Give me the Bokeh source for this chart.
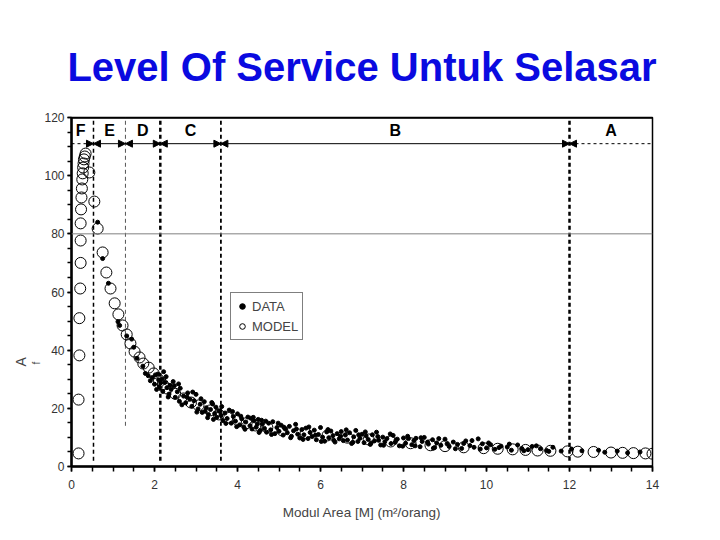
from bokeh.plotting import figure
from bokeh.models import Range1d, SingleIntervalTicker, Span, Arrow, NormalHead, Title
from bokeh.core.properties import value
from bokeh.embed import file_html
from bokeh.resources import INLINE

TITLE = "Level Of Service Untuk Selasar"
X_LABEL = "Modul Area [M] (m\u00b2/orang)"
ZONES = ["F", "E", "D", "C", "B", "A"]
ZONE_EDGES = [0.0, 0.53, 1.3, 2.14, 3.6, 12.0, 14.0]

MODEL_M = [0.17, 0.17, 0.19, 0.19, 0.21, 0.22, 0.22, 0.22, 0.23, 0.24, 0.25, 0.26, 0.27, 0.28,
           0.29, 0.30, 0.32, 0.34,
           0.43, 0.55, 0.63, 0.75, 0.84, 0.94, 1.04, 1.13, 1.23, 1.33, 1.42, 1.52, 1.64, 1.73,
           1.86, 1.98, 2.10, 2.20, 2.31, 2.50, 2.70, 2.88, 3.06, 3.35, 3.55, 3.76, 4.02, 4.22,
           4.43, 4.72, 5.08, 5.64, 6.17, 6.65, 7.16, 7.69, 8.17, 8.65, 9.00, 9.45, 9.93, 10.27,
           10.63, 10.94, 11.23, 11.54, 11.95, 12.20, 12.58, 13.00, 13.28, 13.54, 13.83, 14.00]
MODEL_AF = [4.5, 23.0, 38.2, 51.0, 61.2, 70.0, 77.7, 83.6, 88.4, 92.5, 95.6, 98.7, 100.8, 102.8,
            104.2, 105.6, 106.6, 107.6,
            101.1, 91.1, 81.8, 73.6, 66.7, 61.2, 56.1, 52.3, 48.5, 45.4, 42.3, 39.5, 37.5, 35.4,
            34.0, 32.0, 29.9, 28.3, 26.8, 25.0, 23.4, 22.0, 21.0, 19.3, 17.9, 16.8, 15.8, 14.9,
            14.1, 13.4, 12.4, 11.5, 10.7, 9.9, 9.3, 8.6, 8.0, 7.3, 7.0, 6.6, 6.3, 6.1,
            5.9, 5.7, 5.5, 5.4, 5.2, 5.1, 5.0, 4.8, 4.7, 4.6, 4.5, 4.4]

DATA_M = [0.63, 0.75, 0.89, 1.12, 1.16, 1.33, 1.45, 1.50, 1.58, 1.72, 1.78, 1.85, 1.90, 1.95,
          2.00, 2.05, 2.10, 2.12, 2.18, 2.20, 2.25, 2.30, 2.35, 2.40, 2.45, 2.50, 2.55, 2.60,
          2.62, 2.70, 2.75, 2.80, 2.85, 2.90, 2.95, 3.00, 3.05, 3.10, 3.15, 3.20, 3.25, 3.30,
          3.35, 3.40, 3.45, 3.50, 3.55, 3.60, 3.65, 3.70, 3.75, 3.80, 3.85, 3.90, 3.95, 4.00,
          4.05, 4.10, 4.15, 4.20, 4.25, 4.30, 4.35, 4.40, 4.45, 4.50, 4.55, 4.60, 4.65, 4.70,
          4.75, 4.80, 4.85, 4.90, 4.95, 5.00, 5.05, 5.10, 5.15, 5.20, 5.25, 5.30, 5.35, 5.40,
          5.45, 5.50, 5.55, 5.60, 5.65, 5.70, 5.75, 5.80, 5.85, 5.90, 5.95, 6.00, 6.05, 6.10,
          6.15, 6.20, 6.25, 6.30, 6.35, 6.40, 6.45, 6.50, 6.55, 6.60, 6.65, 6.70, 6.75, 6.80,
          6.85, 6.90, 6.95, 7.00, 7.05, 7.10, 7.15, 7.20, 7.25, 7.30, 7.35, 7.40, 7.45, 7.50,
          7.55, 7.60, 7.70, 7.75, 7.80, 7.85, 7.90, 8.00, 8.05, 8.10, 8.20, 8.25, 8.30, 8.40,
          8.45, 8.50, 8.60, 8.70, 8.75, 8.80, 8.90, 9.00, 9.10, 9.20, 9.30, 9.40, 9.50, 9.60,
          9.70, 9.80, 9.90, 10.00, 10.10, 10.20, 10.35, 10.50, 10.60, 10.75, 10.85, 11.00, 11.10,
          11.30, 11.45, 11.60, 11.80, 12.05, 12.30, 12.70, 12.85, 13.15, 13.40, 13.70,
          2.02, 2.15, 2.28, 2.38, 3.22, 3.38, 3.48, 3.58, 4.32, 4.48, 4.58,
          2.08, 2.22, 2.33, 2.48, 2.58, 2.66, 2.78, 2.92, 3.02, 3.12, 3.28, 3.42, 3.62, 3.72,
          3.88, 3.98, 4.08, 4.18, 4.38, 4.52, 4.68, 4.82, 4.98, 5.12, 5.28, 5.42, 5.58, 5.72,
          5.88, 6.02, 6.18, 6.32, 6.48, 6.62, 6.78, 6.92, 7.08, 7.22, 7.38, 7.52, 7.68, 7.82,
          7.98, 8.12, 8.28, 8.42, 8.58, 8.72, 8.85, 9.05, 9.25, 9.45, 9.65, 9.85, 10.05, 10.30,
          10.55, 10.90, 11.20, 11.50]
DATA_AF = [84.0, 71.5, 63.0, 49.8, 48.5, 44.9, 43.8, 41.0, 37.2, 34.5, 32.0, 31.2, 29.5, 30.6,
           28.3, 26.5, 29.8, 27.4, 30.1, 25.8, 28.9, 27.1, 24.9, 26.6, 29.2, 23.8, 25.7, 22.4,
           26.9, 24.2, 21.9, 25.3, 23.1, 20.7, 22.6, 24.8, 19.8, 21.4, 18.6, 22.3, 20.2, 17.9,
           19.6, 21.5, 18.2, 16.9, 19.1, 17.6, 15.8, 18.4, 16.5, 19.4, 14.9, 17.2, 15.6, 18.1,
           14.3, 16.4, 13.6, 15.3, 17.0, 14.0, 12.9, 15.7, 13.5, 16.2, 12.4, 14.6, 13.1, 11.8,
           14.9, 12.6, 15.4, 11.3, 13.4, 12.1, 14.2, 10.8, 12.9, 11.6, 13.8, 10.4, 12.3, 14.5,
           11.1, 9.8, 12.7, 10.9, 13.2, 9.6, 11.7, 10.3, 12.5, 9.2, 11.0, 13.4, 10.1, 8.7,
           11.9, 9.9, 12.2, 10.6, 8.4, 11.3, 9.5, 12.0, 8.9, 10.8, 9.1, 11.6, 7.9, 10.2,
           12.4, 8.6, 9.7, 11.1, 8.2, 10.5, 9.3, 7.6, 10.9, 8.8, 11.8, 9.0, 7.4, 10.1,
           8.5, 9.6, 7.9, 10.7, 8.3, 9.4, 7.1, 9.8, 8.0, 10.4, 7.5, 8.9, 9.7, 6.8,
           8.6, 10.0, 7.7, 9.2, 6.5, 8.1, 7.3, 9.4, 6.9, 8.4, 7.6, 6.2, 8.8, 7.2,
           6.6, 9.5, 7.8, 6.4, 7.5, 5.9, 7.0, 6.7, 5.6, 7.4, 6.2, 5.8, 6.9,
           6.1, 5.5, 6.6, 5.3, 6.0, 5.4, 5.6, 4.9, 5.3, 4.7, 5.0,
           31.5, 28.8, 30.9, 27.9, 19.0, 22.0, 20.4, 18.9, 16.6, 14.6, 15.9,
           31.8, 32.6, 23.9, 27.8, 28.4, 21.2, 23.9, 25.6, 18.7, 23.3, 16.8, 16.2, 20.6, 14.8,
           18.9, 13.7, 17.3, 12.8, 16.9, 11.7, 15.6, 11.0, 14.9, 13.4, 9.9, 12.9, 9.3, 13.6,
           10.8, 8.6, 12.7, 9.0, 10.4, 12.6, 8.3, 10.9, 11.9, 8.1, 10.3, 7.3, 11.2, 9.1,
           7.0, 9.6, 7.1, 9.9, 8.4, 6.3, 9.6, 7.8, 6.1, 7.9, 8.9, 6.0, 8.1, 6.5,
           7.7, 5.4, 7.1, 5.2]

FONT = "Liberation Sans"

p = figure(width=720, height=540, x_range=Range1d(0, 14), y_range=Range1d(0, 120),
           output_backend="svg", toolbar_location=None,
           min_border_left=71, min_border_right=68, min_border_top=117, min_border_bottom=74)
p.xgrid.visible = False
p.ygrid.visible = False
p.outline_line_color = "black"
p.outline_line_width = 1.5
p.background_fill_color = "white"
p.border_fill_color = "white"

# title
p.title.text = TITLE
p.title.align = "center"
p.title.text_font = FONT
p.title.text_font_style = "bold"
p.title.text_font_size = "40px"
p.title.text_color = "#0a0ae0"
p.title.standoff = 58

p.xaxis.ticker = SingleIntervalTicker(interval=2, num_minor_ticks=4)
p.yaxis.ticker = SingleIntervalTicker(interval=20, num_minor_ticks=4)
for ax in (p.xaxis[0], p.yaxis[0]):
    ax.axis_line_width = 2.5
    ax.axis_line_color = "black"
    ax.major_tick_line_width = 1.5
    ax.minor_tick_line_width = 1.5
    ax.major_tick_in = 0
    ax.minor_tick_in = 0
    ax.major_label_text_font = FONT
    ax.major_label_text_font_size = "12px"
    ax.major_label_text_color = "#333333"
p.xaxis.major_tick_out = 5
p.xaxis.minor_tick_out = 5
p.xaxis.major_label_standoff = 8
p.yaxis.major_tick_out = 4
p.yaxis.minor_tick_out = 4
p.yaxis.major_label_standoff = 3
p.xaxis.axis_label = X_LABEL
p.xaxis.axis_label_text_font = FONT
p.xaxis.axis_label_text_font_style = "normal"
p.xaxis.axis_label_text_font_size = "13.5px"
p.xaxis.axis_label_standoff = 13

# y axis label "A" with subscript "f" as side titles
p.add_layout(Title(text="f", align="left", offset=102, text_font=FONT, text_font_size="10px",
                   text_font_style="normal", standoff=0), "left")
p.add_layout(Title(text="A", align="left", offset=100, text_font=FONT, text_font_size="14px",
                   text_font_style="normal", standoff=0), "left")

# reference line at 80 and thick top border
p.add_layout(Span(location=80, dimension="width", line_color="#808080", line_width=1))
p.add_layout(Span(location=120, dimension="width", line_color="black", line_width=2.5))

# zone boundaries
b = ZONE_EDGES
p.segment(x0=[b[1]], y0=[2], x1=[b[1]], y1=[120], line_color="black", line_width=1.5, line_dash="4 3")
p.segment(x0=[b[2]], y0=[14], x1=[b[2]], y1=[120], line_color="#555555", line_width=1, line_dash="4 3")
p.segment(x0=[b[3], b[5]], y0=[2, 2], x1=[b[3], b[5]], y1=[120, 120], line_color="black",
          line_width=2.5, line_dash="4 3")
p.segment(x0=[b[4]], y0=[2], x1=[b[4]], y1=[120], line_color="black", line_width=1.8, line_dash="4 3")

# zone arrows
ARROW_Y = 111
for i in range(len(b) - 1):
    dashed = (i == 0 or i == len(b) - 2)
    p.add_layout(Arrow(
        x_start=b[i], x_end=b[i + 1], y_start=ARROW_Y, y_end=ARROW_Y,
        start=None if i == 0 else NormalHead(size=7, fill_color="black", line_color="black"),
        end=None if i == len(b) - 2 else NormalHead(size=7, fill_color="black", line_color="black"),
        line_color="black", line_width=1, line_dash="3 3" if dashed else "solid"))

mids = [(b[i] + b[i + 1]) / 2 for i in range(len(ZONES))]
mids[0] = 0.22
p.text(x=mids, y=[115.5] * len(ZONES), text=ZONES, text_font=value(FONT), text_font_style="bold",
       text_font_size="16px", text_align="center", text_baseline="middle", text_color="black")

# data and model
p.scatter(x=DATA_M, y=DATA_AF, marker="circle", size=4, fill_color="black", line_color="black",
          legend_label="DATA")
p.scatter(x=MODEL_M, y=MODEL_AF, marker="circle", size=11, fill_color="white", fill_alpha=0.0,
          line_color="black", line_width=1, legend_label="MODEL")

lg = p.legend[0]
lg.location = (159, 126)
lg.border_line_color = "black"
lg.border_line_width = 1
lg.label_text_font = FONT
lg.label_text_font_size = "13px"
lg.glyph_width = 14
lg.glyph_height = 18
lg.label_height = 18
lg.label_standoff = 3
lg.padding = 4
lg.spacing = 2
lg.margin = 0
lg.background_fill_alpha = 1.0

open("out.html", "w").write(file_html(p, INLINE))
